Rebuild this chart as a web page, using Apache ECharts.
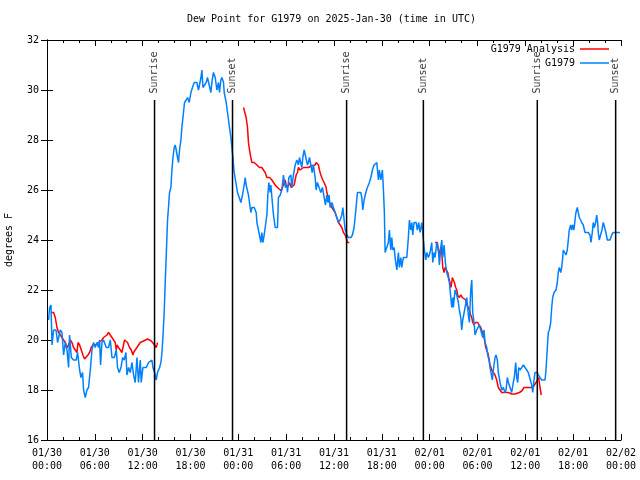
<!DOCTYPE html>
<html><head><meta charset="utf-8">
<script src="https://cdn.jsdelivr.net/npm/echarts@6/dist/echarts.min.js"></script>
<style>html,body{margin:0;padding:0;background:#fff}#c{width:640px;height:480px}</style>
</head><body><div id="c"></div>
<script>
// hours since 2025-01-30 00:00 UTC, dew point (F)
const blueObs = [
[0.20,20.8],[0.33,21.3],[0.50,21.4],[0.63,19.8],[0.83,20.4],[1.13,20.4],[1.33,19.9],[1.67,20.4],[1.88,20.3],[2.08,19.4],
[2.29,19.9],[2.51,19.6],[2.71,18.9],[2.83,20.2],[3.05,19.3],[3.33,19.2],[3.67,19.2],[3.84,19.5],[4.09,18.8],[4.26,18.5],
[4.46,18.7],[4.59,18.0],[4.80,17.7],[5.01,18.0],[5.21,18.1],[5.43,18.8],[5.64,19.6],[5.84,19.9],[6.05,19.7],[6.27,19.9],
[6.47,19.7],[6.59,20.0],[6.72,19.0],[6.89,19.9],[7.10,20.0],[7.43,19.7],[7.72,19.7],[7.94,20.0],[8.15,19.3],[8.44,19.3],
[8.69,19.6],[8.85,18.9],[9.06,18.7],[9.28,18.9],[9.48,19.3],[9.69,19.2],[9.90,19.5],[10.03,18.6],[10.23,18.9],[10.44,18.7],
[10.66,19.1],[10.86,18.6],[11.07,18.3],[11.28,19.3],[11.48,18.3],[11.70,19.2],[11.82,18.3],[12.03,18.9],[12.45,18.9],[12.74,19.1],
[12.95,19.1],[13.16,19.2],[13.29,18.9],[13.49,18.7],[13.70,18.4],[13.86,18.7],[14.12,18.9],[14.29,19.1],[14.42,19.5],[14.54,20.1],
[14.70,21.1],[14.83,22.3],[14.96,23.4],[15.12,24.8],[15.24,25.3],[15.37,25.9],[15.54,26.1],[15.67,26.8],[15.80,27.3],[15.96,27.7],
[16.08,27.8],[16.21,27.6],[16.37,27.3],[16.50,27.1],[16.62,27.6],[16.80,28.0],[16.92,28.5],[17.12,29.1],[17.25,29.5],[17.46,29.6],
[17.63,29.7],[17.84,29.5],[18.05,29.9],[18.25,30.1],[18.47,30.3],[18.80,30.3],[19.00,30.0],[19.13,30.2],[19.31,30.5],[19.43,30.8],
[19.56,30.1],[19.76,30.1],[19.97,30.3],[20.13,30.5],[20.38,30.5],[20.56,29.9],[20.72,30.4],[20.88,30.7],[21.10,30.5],[21.31,30.0],
[21.51,30.3],[21.64,29.9],[21.81,30.4],[21.94,30.5],[22.14,30.3],[22.23,29.9],[22.48,29.5],[22.64,29.1],[22.77,28.8],[22.89,28.5],
[23.07,28.1],[23.19,27.7],[23.32,27.3],[23.48,26.7],[23.69,26.3],[23.89,25.9],[24.11,25.7],[24.32,25.5],[24.52,25.8],[24.73,26.2],
[24.86,26.5],[24.98,26.2],[25.15,26.2],[25.27,25.8],[25.40,25.5],[25.57,25.1],[25.70,25.3],[25.99,25.3],[26.24,25.1],[26.33,24.7],
[26.53,24.7],[26.65,24.2],[26.83,23.9],[26.95,24.3],[27.08,23.9],[27.24,24.2],[27.37,24.5],[27.58,25.0],[27.70,25.8],[27.83,26.3],
[27.99,25.9],[28.08,26.2],[28.21,25.7],[28.41,25.0],[28.62,24.5],[28.91,24.5],[29.03,25.7],[29.25,25.8],[29.46,26.0],[29.66,26.6],
[29.79,26.3],[29.91,26.1],[30.09,26.2],[30.16,25.9],[30.34,26.5],[30.59,26.6],[30.71,26.1],[30.91,26.6],[31.13,27.0],[31.34,27.2],
[31.54,27.0],[31.67,27.3],[31.84,27.3],[31.97,26.9],[32.09,27.3],[32.26,27.6],[32.51,27.6],[32.67,27.0],[32.79,27.1],[32.92,27.3],
[33.10,27.0],[33.26,26.7],[33.42,27.0],[33.63,26.5],[33.76,26.0],[33.92,26.3],[34.17,26.3],[34.35,25.9],[34.55,26.1],[34.76,26.1],
[34.93,25.4],[35.10,25.8],[35.23,25.5],[35.39,25.8],[35.51,25.3],[35.73,25.5],[35.93,25.3],[36.14,25.1],[36.35,24.9],[36.56,24.7],
[36.77,24.8],[36.98,25.0],[37.11,25.3],[37.27,24.8],[37.40,24.4],[37.61,24.2],[37.81,24.1],[38.11,24.1],[38.31,24.2],[38.52,24.5],
[38.74,25.2],[38.94,25.9],[39.36,25.9],[39.49,25.7],[39.61,25.2],[39.78,25.6],[39.99,25.9],[40.19,26.1],[40.44,26.3],[40.62,26.5],
[40.82,26.8],[41.03,27.0],[41.37,27.1],[41.57,26.4],[41.69,26.8],[41.87,26.4],[42.07,26.8],[42.20,26.0],[42.32,25.1],[42.41,23.5],
[42.62,23.5],[42.82,23.9],[42.95,24.4],[43.12,23.6],[43.25,24.1],[43.37,23.6],[43.54,23.7],[43.70,23.2],[43.88,22.8],[44.08,23.5],
[44.20,22.9],[44.38,23.3],[44.50,22.9],[44.70,23.3],[45.13,23.3],[45.33,24.1],[45.46,24.8],[45.63,24.4],[45.76,24.7],[45.88,24.2],
[46.04,24.7],[46.30,24.7],[46.46,24.4],[46.63,24.7],[46.80,24.3],[47.01,24.7],[47.21,24.7],[47.34,23.6],[47.51,23.2],[47.64,23.5],
[47.84,23.3],[48.05,23.5],[48.26,23.9],[48.39,23.1],[48.55,23.5],[48.68,23.3],[48.89,23.9],[49.09,23.6],[49.22,23.0],[49.39,23.7],
[49.52,24.0],[49.64,23.3],[49.81,23.8],[49.97,23.1],[50.14,22.7],[50.34,22.5],[50.47,22.3],[50.65,21.7],[50.77,21.3],[50.90,21.7],
[50.97,21.3],[51.18,22.0],[51.40,21.8],[51.60,21.5],[51.72,21.2],[51.90,20.9],[52.02,20.4],[52.15,20.8],[52.31,20.8],[52.44,21.3],
[52.65,21.7],[52.85,21.0],[52.98,20.7],[53.15,22.0],[53.28,22.4],[53.40,21.1],[53.57,20.7],[53.69,20.2],[53.90,20.4],[54.11,20.4],
[54.23,20.6],[54.41,20.4],[54.66,20.1],[54.82,20.4],[54.95,19.9],[55.16,19.7],[55.28,19.4],[55.45,19.2],[55.57,18.9],[55.70,18.7],
[55.86,18.4],[55.99,18.8],[56.20,19.3],[56.32,19.4],[56.49,19.2],[56.61,18.7],[56.83,18.3],[57.04,18.0],[57.24,18.1],[57.45,17.9],
[57.58,18.0],[57.74,18.5],[57.87,18.3],[58.08,18.1],[58.29,17.9],[58.49,18.3],[58.62,18.5],[58.79,19.1],[58.92,18.5],[59.04,18.3],
[59.17,18.9],[59.33,18.8],[59.55,18.9],[59.75,19.0],[59.96,18.9],[60.17,18.8],[60.37,18.7],[60.59,18.7],[60.80,18.2],[60.93,17.9],
[61.09,18.4],[61.21,18.7],[61.50,18.7],[61.63,18.6],[61.84,18.5],[62.05,18.4],[62.47,18.4],[62.59,18.8],[62.76,19.7],[62.88,20.3],
[63.01,20.4],[63.18,20.7],[63.31,21.3],[63.43,21.7],[63.60,21.9],[63.85,22.0],[64.01,22.3],[64.13,22.7],[64.26,22.9],[64.44,22.7],
[64.56,22.9],[64.69,23.3],[64.76,23.6],[64.97,23.6],[65.10,23.4],[65.26,23.6],[65.39,24.0],[65.51,24.4],[65.69,24.6],[65.81,24.4],
[65.94,24.6],[66.10,24.4],[66.23,24.8],[66.35,25.1],[66.52,25.3],[66.64,25.1],[66.77,24.9],[66.94,24.8],[67.07,24.7],[67.27,24.6],
[67.48,24.3],[67.90,24.3],[68.11,24.2],[68.23,23.9],[68.40,24.3],[68.52,24.7],[68.65,24.5],[68.82,24.7],[68.95,25.0],[69.07,24.7],
[69.15,24.3],[69.27,24.0],[69.49,24.0],[69.61,24.4],[69.78,24.7],[69.99,24.7],[70.11,24.3],[70.28,24.0],[70.62,24.0],[70.83,24.2],
[71.03,24.3],[71.87,24.3]
];
const analysisSeg1 = [
[0.50,21.1],[0.83,21.1],[1.04,20.9],[1.25,20.5],[1.45,20.3],[1.67,20.2],[1.88,20.2],[2.08,20.0],[2.29,19.9],[2.51,19.7],
[2.71,19.8],[2.92,20.0],[3.13,19.9],[3.33,19.7],[3.55,19.6],[3.76,19.5],[3.89,19.9],[4.09,19.8],[4.30,19.6],[4.51,19.4],
[4.71,19.24],[4.93,19.3],[5.14,19.4],[5.34,19.5],[5.55,19.7],[5.77,19.8],[6.05,19.8],[6.27,19.8],[6.47,19.9],[6.68,19.9],
[6.89,20.0],[7.10,20.1],[7.31,20.1],[7.52,20.2],[7.72,20.3],[7.94,20.3],[8.15,20.1],[8.35,20.0],[8.56,19.9],[8.69,19.6],
[8.78,19.8],[8.98,19.7],[9.19,19.6],[9.40,19.5],[9.60,19.5],[9.73,20.0],[9.94,20.0],[10.10,19.9],[10.35,19.7],[10.57,19.6],
[10.78,19.4],[10.86,19.5],[11.07,19.6],[11.28,19.7],[11.48,19.8],[11.70,19.9],[11.91,19.9],[12.11,19.96],[12.32,20.0],[12.61,20.04],
[12.86,20.04],[13.08,19.96],[13.29,19.9],[13.49,19.8],[13.70,19.7],[13.79,19.8],[13.86,19.9]
];
const analysisSeg2 = [
[24.65,29.3],[24.86,29.3],[24.98,28.9],[25.15,28.5],[25.27,27.9],[25.40,27.6],[25.57,27.3],[25.70,27.1],[25.99,27.1],[26.33,27.0],
[26.65,26.9],[26.95,26.9],[27.15,26.8],[27.37,26.7],[27.58,26.5],[27.91,26.5],[28.21,26.4],[28.41,26.3],[28.62,26.2],[28.91,26.1],
[29.16,26.1],[29.37,25.97],[29.59,26.0],[29.75,26.3],[29.87,26.4],[30.00,26.2],[30.16,26.1],[30.41,26.3],[30.63,26.1],[30.84,26.1],
[31.00,26.2],[31.13,26.4],[31.25,26.6],[31.42,26.7],[31.54,26.9],[31.75,26.8],[31.97,26.84],[32.17,26.9],[32.51,26.9],[32.79,26.9],
[33.10,26.96],[33.35,27.0],[33.63,27.0],[33.76,27.1],[33.92,27.1],[34.05,27.0],[34.17,26.8],[34.35,26.6],[34.47,26.5],[34.60,26.4],
[34.76,26.3],[34.89,26.3],[35.01,26.1],[35.10,25.9],[35.18,25.8],[35.30,25.7],[35.43,25.5],[35.60,25.4],[35.73,25.3],[35.93,25.3],
[36.14,25.1],[36.35,24.9],[36.56,24.7],[36.77,24.6],[36.98,24.5],[37.18,24.3],[37.40,24.2],[37.52,24.1],[37.68,23.9],[37.93,23.9]
];
const analysisSeg3 = [
[48.68,23.9],[48.97,23.9],[49.09,23.6],[49.22,23.4],[49.39,23.7],[49.52,23.5],[49.64,22.9],[49.81,22.7],[49.93,22.9],[50.14,22.9],
[50.27,22.7],[50.39,22.5],[50.55,22.3],[50.68,22.1],[50.85,22.5],[50.97,22.4],[51.10,22.3],[51.27,22.1],[51.40,22.0],[51.52,21.8],
[51.69,21.7],[51.90,21.8],[52.10,21.7],[52.31,21.7],[52.53,21.6],[52.65,21.4],[52.85,21.3],[52.98,21.2],[53.15,21.0],[53.28,20.9],
[53.40,20.7],[53.57,20.6],[53.73,20.7],[53.90,20.7],[54.03,20.7],[54.19,20.6],[54.41,20.5],[54.61,20.3],[54.82,20.1],[55.03,19.7],
[55.16,19.7],[55.28,19.5],[55.41,19.3],[55.57,19.0],[55.79,18.8],[55.99,18.7],[56.20,18.6],[56.41,18.4],[56.61,18.1],[56.83,18.04],
[57.04,17.9],[57.24,17.9],[57.45,17.9],[57.67,17.9],[57.87,17.9],[58.08,17.9],[58.29,17.84],[58.49,17.8],[58.71,17.84],[58.92,17.9],
[59.25,17.9],[59.55,17.96],[59.83,18.1],[60.17,18.1],[60.59,18.1],[60.93,18.1],[61.13,18.2],[61.34,18.3],[61.50,18.3],[61.68,18.5],
[61.84,18.1],[62.00,17.8]
];
const eventLabels = ['Sunrise','Sunset','Sunrise','Sunset','Sunrise','Sunset'];
const eventHours = [13.49, 23.27, 37.58, 47.21, 61.50, 71.33];
const eventLineBottom = 16, eventLineTop = 29.6;

const FONT = 'DejaVu Sans Mono';
const txt = {fontFamily: FONT, fontSize: 10, color: '#000'};
const baseTime = Date.UTC(2025, 0, 30);
function pad(n){return (n<10?'0':'')+n;}
function fmtX(h){
  const d = new Date(baseTime + h*3600000);
  return pad(d.getUTCMonth()+1)+'/'+pad(d.getUTCDate())+'\n'+pad(d.getUTCHours())+':'+pad(d.getUTCMinutes());
}
const RED = '#ff0000', BLUE = '#0080ff';
const series = [];
[analysisSeg1, analysisSeg2, analysisSeg3].forEach(seg => {
  series.push({name:'G1979 Analysis', type:'line', data:seg, showSymbol:false, symbol:'none',
    lineStyle:{color:RED, width:1.5}, itemStyle:{color:RED}, silent:true, z:3});
});
series.push({name:'G1979', type:'line', data:blueObs, showSymbol:false, symbol:'none',
  lineStyle:{color:BLUE, width:1.5}, itemStyle:{color:BLUE}, silent:true, z:4});
eventHours.forEach((h,i) => {
  series.push({type:'line', data:[[h,eventLineBottom],[h,eventLineTop]], symbol:'none', silent:true,
    lineStyle:{color:'#000', width:1.5}, z:5});
  series.push({type:'scatter', data:[[h,eventLineTop]], symbol:'circle', symbolSize:1, silent:true,
    itemStyle:{color:'rgba(0,0,0,0)'}, z:6,
    label:{show:true, formatter:eventLabels[i], position:'top', distance:6, rotate:90,
      align:'left', verticalAlign:'middle', ...txt}});
});
const tickCommon = {
  axisLine:{show:true, lineStyle:{color:'#000', width:1}},
  axisTick:{show:true, inside:true, length:6, lineStyle:{color:'#000', width:1}},
  splitLine:{show:false}
};
const option = {
  animation:false,
  backgroundColor:'#fff',
  title:{text:'Dew Point for G1979 on 2025-Jan-30 (time in UTC)', left:187, top:14, padding:0,
    textStyle:{...txt, fontWeight:'normal'}},
  legend:[
    {data:['G1979 Analysis'], right:31, top:44, orient:'vertical', align:'right', icon:'rect',
      itemWidth:29, itemHeight:1.5, selectedMode:false, textStyle:txt, padding:0},
    {data:['G1979'], right:31, top:58, orient:'vertical', align:'right', icon:'rect',
      itemWidth:29, itemHeight:1.5, selectedMode:false, textStyle:txt, padding:0}
  ],
  grid:{left:47, right:19, top:40, bottom:40, show:false, containLabel:false, outerBoundsMode:'none'},
  xAxis:[
    {type:'value', min:0, max:72, interval:6, position:'bottom', ...tickCommon,
      minorTick:{show:true, splitNumber:3, length:3, lineStyle:{color:'#000'}},
      axisLabel:{...txt, formatter:fmtX, lineHeight:13, margin:7}},
    {type:'value', min:0, max:72, interval:6, position:'top', ...tickCommon,
      minorTick:{show:true, splitNumber:3, length:3, lineStyle:{color:'#000'}},
      axisLabel:{show:false}}
  ],
  yAxis:[
    {type:'value', min:16, max:32, interval:2, position:'left', ...tickCommon,
      name:'degrees F', nameLocation:'middle', nameGap:33, nameTextStyle:txt,
      axisLabel:{...txt, margin:8}},
    {type:'value', min:16, max:32, interval:2, position:'right', ...tickCommon,
      axisLabel:{show:false}}
  ],
  series
};
const chart = echarts.init(document.getElementById('c'), null, {renderer:'canvas'});
chart.setOption(option);
</script></body></html>
